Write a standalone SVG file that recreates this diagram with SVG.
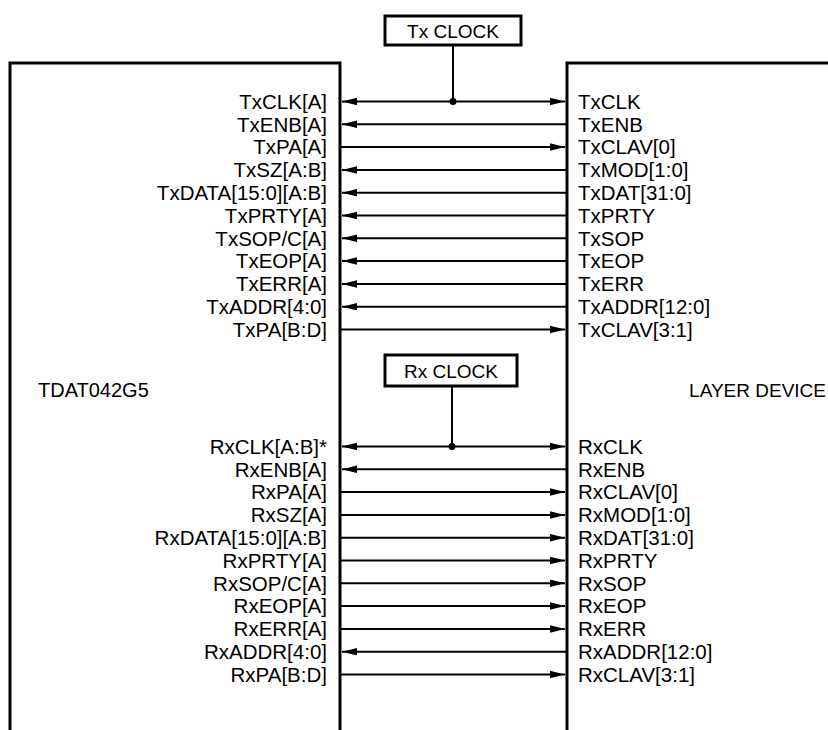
<svg xmlns="http://www.w3.org/2000/svg" width="828" height="730" viewBox="0 0 828 730">
<style>
.box{fill:none;stroke:#000;stroke-width:3}
.ln{stroke:#000;stroke-width:2;fill:none}
.t{font-family:"Liberation Sans",Arial,sans-serif;font-size:20.5px;fill:#000}
.n{font-size:20px}
.k{font-size:19px}
.l{text-anchor:end}
.c{text-anchor:middle}
</style>
<defs>
<marker id="ah" markerUnits="userSpaceOnUse" markerWidth="16" markerHeight="8" refX="15" refY="3.75" orient="auto-start-reverse">
<path d="M0,0 L15,3.75 L0,7.5 z" fill="#000"/>
</marker>
</defs>
<g id="left-device">
<path class="box" d="M10,731 V63 H340 V731"/>
<text class="t n" x="38" y="397">TDAT042G5</text>
</g>
<g id="right-device">
<path class="box" d="M567,731 V63 H832"/>
<text class="t k l" x="826" y="397">LAYER DEVICE</text>
</g>
<g id="tx-clock">
<rect class="box" x="385" y="16" width="136" height="29" fill="#fff"/>
<text class="t c k" x="453" y="37.5">Tx CLOCK</text>
</g>
<g id="rx-clock">
<rect class="box" x="385" y="355" width="132" height="31" fill="#fff"/>
<text class="t c k" x="451" y="377.5">Rx CLOCK</text>
</g>
<g id="left-labels" class="t l">
<text x="327" y="108.8">TxCLK[A]</text>
<text x="327" y="131.6">TxENB[A]</text>
<text x="327" y="154.4">TxPA[A]</text>
<text x="327" y="177.2">TxSZ[A:B]</text>
<text x="327" y="200">TxDATA[15:0][A:B]</text>
<text x="327" y="222.8">TxPRTY[A]</text>
<text x="327" y="245.6">TxSOP/C[A]</text>
<text x="327" y="268.4">TxEOP[A]</text>
<text x="327" y="291.2">TxERR[A]</text>
<text x="327" y="314">TxADDR[4:0]</text>
<text x="327" y="336.8">TxPA[B:D]</text>
<text x="327" y="453.8">RxCLK[A:B]*</text>
<text x="327" y="476.6">RxENB[A]</text>
<text x="327" y="499.4">RxPA[A]</text>
<text x="327" y="522.2">RxSZ[A]</text>
<text x="327" y="545">RxDATA[15:0][A:B]</text>
<text x="327" y="567.8">RxPRTY[A]</text>
<text x="327" y="590.6">RxSOP/C[A]</text>
<text x="327" y="613.4">RxEOP[A]</text>
<text x="327" y="636.2">RxERR[A]</text>
<text x="327" y="659">RxADDR[4:0]</text>
<text x="327" y="681.8">RxPA[B:D]</text>
</g>
<g id="right-labels" class="t">
<text x="578" y="108.8">TxCLK</text>
<text x="578" y="131.6">TxENB</text>
<text x="578" y="154.4">TxCLAV[0]</text>
<text x="578" y="177.2">TxMOD[1:0]</text>
<text x="578" y="200">TxDAT[31:0]</text>
<text x="578" y="222.8">TxPRTY</text>
<text x="578" y="245.6">TxSOP</text>
<text x="578" y="268.4">TxEOP</text>
<text x="578" y="291.2">TxERR</text>
<text x="578" y="314">TxADDR[12:0]</text>
<text x="578" y="336.8">TxCLAV[3:1]</text>
<text x="578" y="453.8">RxCLK</text>
<text x="578" y="476.6">RxENB</text>
<text x="578" y="499.4">RxCLAV[0]</text>
<text x="578" y="522.2">RxMOD[1:0]</text>
<text x="578" y="545">RxDAT[31:0]</text>
<text x="578" y="567.8">RxPRTY</text>
<text x="578" y="590.6">RxSOP</text>
<text x="578" y="613.4">RxEOP</text>
<text x="578" y="636.2">RxERR</text>
<text x="578" y="659">RxADDR[12:0]</text>
<text x="578" y="681.8">RxCLAV[3:1]</text>
</g>
<g id="connectors" class="ln">
<line x1="453" y1="45" x2="453" y2="101.5"/>
<circle cx="453" cy="101.5" r="3.5" fill="#000" stroke="none"/>
<line x1="342" y1="101.5" x2="565" y2="101.5" marker-start="url(#ah)" marker-end="url(#ah)"/>
<line x1="566" y1="124.3" x2="342" y2="124.3" marker-end="url(#ah)"/>
<line x1="341" y1="147.1" x2="565" y2="147.1" marker-end="url(#ah)"/>
<line x1="566" y1="169.9" x2="342" y2="169.9" marker-end="url(#ah)"/>
<line x1="566" y1="192.7" x2="342" y2="192.7" marker-end="url(#ah)"/>
<line x1="566" y1="215.5" x2="342" y2="215.5" marker-end="url(#ah)"/>
<line x1="566" y1="238.3" x2="342" y2="238.3" marker-end="url(#ah)"/>
<line x1="566" y1="261.1" x2="342" y2="261.1" marker-end="url(#ah)"/>
<line x1="566" y1="283.9" x2="342" y2="283.9" marker-end="url(#ah)"/>
<line x1="566" y1="306.7" x2="342" y2="306.7" marker-end="url(#ah)"/>
<line x1="341" y1="329.5" x2="565" y2="329.5" marker-end="url(#ah)"/>
<line x1="452" y1="386" x2="452" y2="446.5"/>
<circle cx="452" cy="446.5" r="3.5" fill="#000" stroke="none"/>
<line x1="342" y1="446.5" x2="565" y2="446.5" marker-start="url(#ah)" marker-end="url(#ah)"/>
<line x1="566" y1="469.3" x2="342" y2="469.3" marker-end="url(#ah)"/>
<line x1="341" y1="492.1" x2="565" y2="492.1" marker-end="url(#ah)"/>
<line x1="341" y1="514.9" x2="565" y2="514.9" marker-end="url(#ah)"/>
<line x1="341" y1="537.7" x2="565" y2="537.7" marker-end="url(#ah)"/>
<line x1="341" y1="560.5" x2="565" y2="560.5" marker-end="url(#ah)"/>
<line x1="341" y1="583.3" x2="565" y2="583.3" marker-end="url(#ah)"/>
<line x1="341" y1="606.1" x2="565" y2="606.1" marker-end="url(#ah)"/>
<line x1="341" y1="628.9" x2="565" y2="628.9" marker-end="url(#ah)"/>
<line x1="566" y1="651.7" x2="342" y2="651.7" marker-end="url(#ah)"/>
<line x1="341" y1="674.5" x2="565" y2="674.5" marker-end="url(#ah)"/>
</g>
</svg>
